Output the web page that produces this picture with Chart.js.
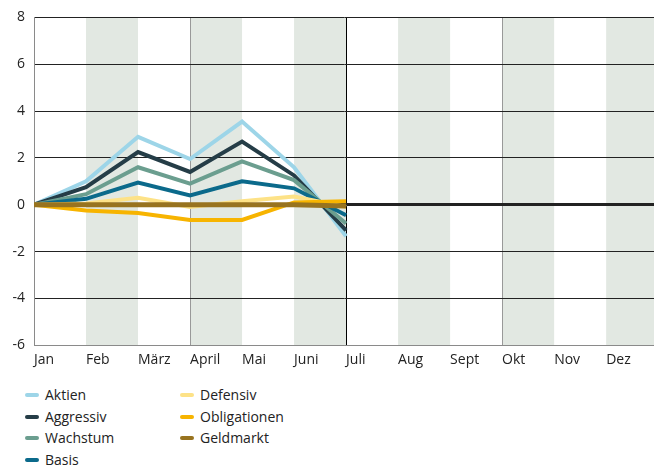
<!DOCTYPE html>
<html>
<head>
<meta charset="utf-8">
<script src="https://cdn.jsdelivr.net/npm/chart.js@4/dist/chart.umd.min.js"></script>
<style>
    body { margin: 0; background: #fff; font-family: "Open Sans", sans-serif; }
    .wrap { position: relative; width: 654px; height: 465px; overflow: hidden; }
    .chart-box { position: absolute; left: 0; top: 0; width: 654px; height: 374px; }
    .legend {
        position: absolute; left: 0; top: 384px;
        display: grid; grid-template-rows: repeat(4, 21.7px); grid-auto-flow: column;
        grid-template-columns: 180px 200px;
        font-size: 14px; color: #222;
    }
    .legend div { display: flex; align-items: center; line-height: 21.7px; }
    .legend span.mark { display: inline-block; width: 14px; height: 4px; border-radius: 2px; margin-right: 6px; }
    .legend .c1 { padding-left: 25px; }
</style>
</head>
<body>
<div class="wrap">
    <div class="chart-box"><canvas id="perfChart"></canvas></div>
    <div class="legend" id="legend"></div>
</div>
<script>
// Data
const MONTHS = ['Jan', 'Feb', 'März', 'April', 'Mai', 'Juni', 'Juli', 'Aug', 'Sept', 'Okt', 'Nov', 'Dez'];
const SERIES_NAMES = ['Aktien', 'Aggressiv', 'Wachstum', 'Basis', 'Defensiv', 'Obligationen', 'Geldmarkt'];
const SERIES_COLORS = ['#9dd5e8', '#253d47', '#6b9e8f', '#0b6a8b', '#fde287', '#f7b400', '#98731f'];

const aktien       = [0, 1.0, 2.9, 1.95, 3.55, 1.6, -1.35];
const aggressiv    = [0, 0.75, 2.25, 1.4, 2.7, 1.25, -1.1];
const wachstum     = [0, 0.45, 1.6, 0.9, 1.85, 1.05, -0.8];
const basis        = [0, 0.25, 0.95, 0.4, 1.0, 0.7, -0.45];
const defensiv     = [0, 0.05, 0.3, -0.1, 0.15, 0.35, -0.1];
const obligationen = [0, -0.25, -0.35, -0.65, -0.65, 0.1, 0.15];
const geldmarkt    = [0, 0, 0, 0, 0, 0, -0.05];

const SERIES = [aktien, aggressiv, wachstum, basis, defensiv, obligationen, geldmarkt];
const DRAW_ORDER = [7, 6, 5, 4, 3, 2, 1]; // Geldmarkt on top

// Shaded month bands
const bands = {
    id: 'bands',
    beforeDraw: (chart) => {
        const { ctx, chartArea: { top, bottom, left, right }, scales: { x } } = chart;
        ctx.save();
        ctx.fillStyle = '#e2e8e2';
        for (let m = 1; m < 12; m += 2) {
            const x0 = Math.max(x.getPixelForValue(m), left);
            const x1 = Math.min(x.getPixelForValue(m + 1), right);
            ctx.fillRect(x0, top, x1 - x0, bottom - top);
        }
        ctx.restore();
    }
};

const ctx = document.getElementById('perfChart').getContext('2d');
new Chart(ctx, {
    type: 'line',
    data: {
        datasets: SERIES.map((vals, i) => ({
            label: SERIES_NAMES[i],
            data: vals.map((v, j) => ({ x: j, y: v })),
            borderColor: SERIES_COLORS[i],
            borderWidth: i === 6 ? 5 : 4,
            tension: 0,
            pointRadius: 0,
            fill: false,
            order: DRAW_ORDER[i]
        }))
    },
    options: {
        responsive: true,
        maintainAspectRatio: false,
        animation: false,
        layout: { padding: { top: 15, right: 0, left: 0, bottom: 0 } },
        plugins: { legend: { display: false }, tooltip: { enabled: false } },
        scales: {
            x: {
                type: 'linear',
                min: 0,
                max: 11.92,
                afterBuildTicks: (scale) => { scale.ticks = MONTHS.map((m, i) => ({ value: i })); },
                grid: {
                    drawTicks: false,
                    color: (c) => {
                        const v = c.tick ? c.tick.value : null;
                        if (v === 6) return '#000';
                        if (v === 3 || v === 9) return '#999';
                        return 'rgba(0,0,0,0)';
                    }
                },
                border: { display: true, color: '#8a8a8a', width: 1 },
                ticks: {
                    align: 'start',
                    padding: 6,
                    color: '#222',
                    font: { family: 'Open Sans', size: 14 },
                    callback: (v) => MONTHS[v]
                }
            },
            y: {
                min: -6,
                max: 8,
                afterFit: (scale) => { scale.width = 34; },
                grid: {
                    drawTicks: false,
                    color: (c) => (c.tick && c.tick.value === -6) ? '#8a8a8a' : '#222',
                    lineWidth: (c) => (c.tick && c.tick.value === 0) ? 3 : 1
                },
                border: { display: true, color: '#8a8a8a', width: 1 },
                ticks: {
                    stepSize: 2,
                    padding: 9,
                    color: '#222',
                    font: { family: 'Open Sans', size: 14 }
                }
            }
        }
    },
    plugins: [bands]
});

// Legend (column-wise, like the original)
const legend = document.getElementById('legend');
SERIES_NAMES.forEach((name, i) => {
    const item = document.createElement('div');
    if (i < 4) item.className = 'c1';
    const mark = document.createElement('span');
    mark.className = 'mark';
    mark.style.background = SERIES_COLORS[i];
    item.appendChild(mark);
    item.appendChild(document.createTextNode(name));
    legend.appendChild(item);
});
</script>
</body>
</html>
